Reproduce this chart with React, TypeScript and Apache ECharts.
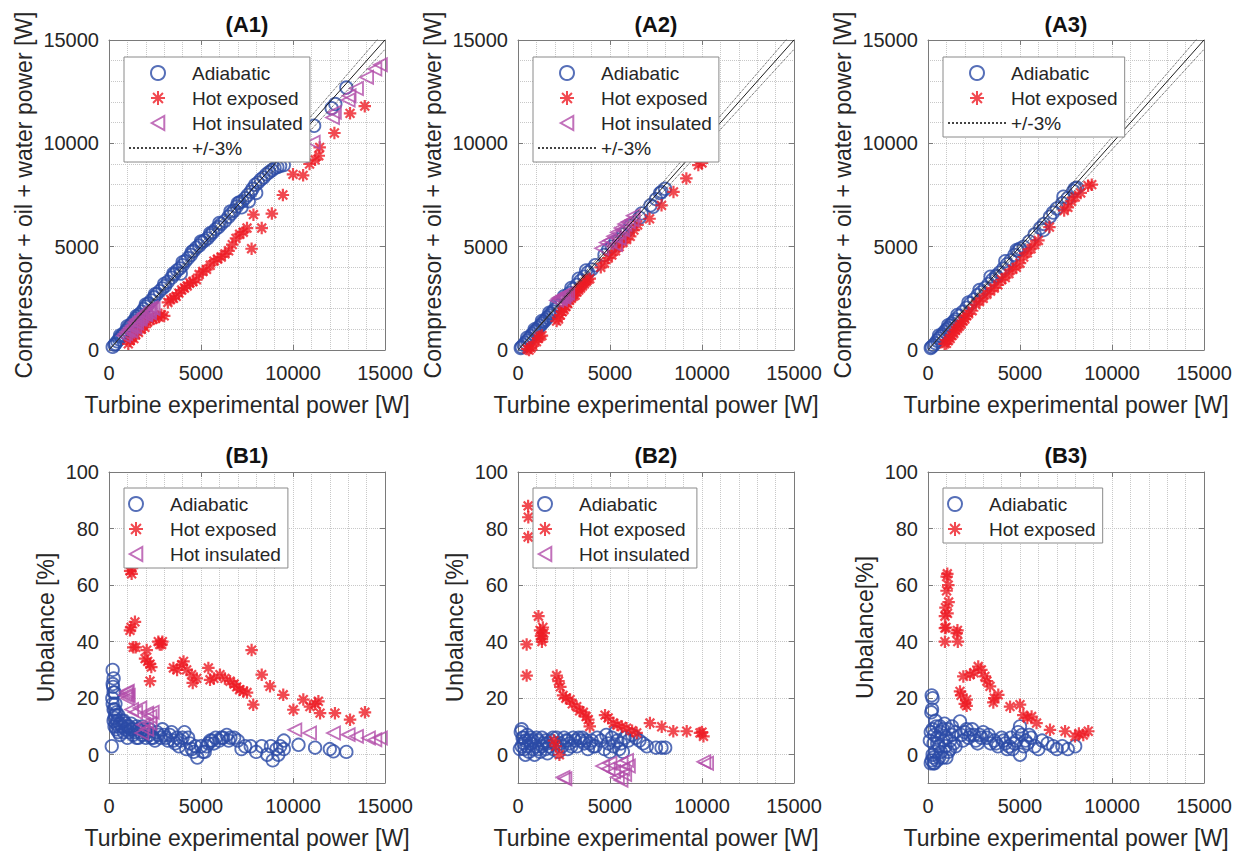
import React, { useEffect, useRef } from "react";
import * as echarts from "echarts";

// ---------- data ----------
const PANEL_TITLES = ["(A1)", "(A2)", "(A3)", "(B1)", "(B2)", "(B3)"];
const NAME_ADIA = "Adiabatic";
const NAME_EXPO = "Hot exposed";
const NAME_INSU = "Hot insulated";
const NAME_BAND = "+/-3%";
const X_TITLE = "Turbine experimental power [W]";
const Y_TITLE_TOP = "Compressor + oil + water power [W]";
const Y_TITLES_BOTTOM = ["Unbalance [%]", "Unbalance [%]", "Unbalance[%]"];
const POWER_MIN = 0;
const POWER_MAX = 15000;
const POWER_STEP = 5000;
const UNB_MIN = -10;
const UNB_MAX = 100;
const UNB_TICKS = [0, 20, 40, 60, 80, 100];

const REF_LINE = [[0, 0], [15000, 15000]];
const PLUS3_LINE = [[0, 0], [15000, 15450]];
const MINUS3_LINE = [[0, 0], [15000, 14550]];

// (A1)
const A1_ADIA = [
  [200, 150], [300, 250], [350, 300], [450, 420], [550, 520], [650, 640], [750, 730], [850, 850], [950, 950],
  [1050, 1080], [1150, 1180], [1250, 1300], [1350, 1400], [1450, 1500], [1550, 1600], [1650, 1720], [1800, 1850],
  [1900, 1980], [2000, 2100], [2150, 2250], [2300, 2400], [2450, 2550], [2600, 2700], [2750, 2850], [2900, 2980],
  [3050, 3100], [3200, 3300], [3400, 3500], [3550, 3650], [3700, 3850], [3850, 3950], [3900, 3700], [4000, 4100],
  [4150, 4300], [4300, 4450], [4450, 4600], [4600, 4800], [4750, 4950], [4900, 5050], [5050, 5200], [5200, 5300],
  [5350, 5400], [5500, 5550], [5650, 5700], [5800, 5850], [5950, 5950], [6100, 6100], [6300, 6250], [6500, 6450],
  [6650, 6600], [6800, 6750], [6950, 6950], [7100, 7150], [7200, 6900], [7250, 7200], [7400, 7350], [7550, 7500],
  [7600, 7200], [7700, 7650], [7800, 7800], [7950, 8000], [8000, 7600], [8100, 8100], [8250, 8250], [8400, 8350],
  [8550, 8500], [8700, 8600], [8850, 8700], [9000, 8800], [9150, 8850], [9300, 8900], [9500, 8950],
  [600, 700], [1000, 1150], [1500, 1650], [2000, 2200], [2500, 2700], [3000, 3200], [3500, 3700], [4000, 4250],
  [4500, 4750], [5000, 5250], [5500, 5650], [6000, 6150], [6600, 6700], [7000, 7100],
  [11150, 10850], [12100, 11700], [12300, 11900], [12900, 12700],
];
const A1_EXPO = [
  [1050, 300], [1150, 450], [1250, 600], [1350, 550], [1450, 750], [1600, 850], [1750, 1000], [1850, 1200],
  [1950, 1100], [2100, 1350], [2250, 1450], [2400, 1500], [2550, 1550], [2700, 1600], [2850, 1700], [3000, 1650],
  [3200, 2300], [3350, 2450], [3500, 2500], [3650, 2600], [3800, 2750], [3950, 2900], [4100, 3000], [4250, 3100],
  [4400, 3250], [4550, 3300], [4750, 3400], [4900, 3650], [5100, 3800], [5300, 3900], [5500, 4100], [5700, 4300],
  [5900, 4400], [6100, 4500], [6300, 4650], [6500, 4800], [6700, 5100], [6900, 5400], [7100, 5600], [7300, 5700],
  [7500, 5900], [7750, 4900], [7850, 6550], [8300, 5900], [8850, 6600], [9450, 7500], [10000, 8500], [10550, 8450],
  [10900, 9000], [11200, 9200], [11400, 9400], [11450, 9800], [12250, 10500], [13100, 11450], [13900, 11800],
];
const A1_INSU = [
  [800, 700], [900, 800], [1000, 900], [1100, 1000], [1200, 1100], [1300, 1200], [1400, 1350], [1500, 1450],
  [1600, 1500], [1700, 1600], [1800, 1650], [1900, 1750], [2000, 1800], [2100, 1900], [2200, 1950], [2300, 2050],
  [2400, 2000], [1500, 1300], [1700, 1500], [2000, 1700], [2200, 1800], [1200, 900], [1400, 1100],
  [10400, 9400], [11100, 10050], [12150, 11250], [12250, 11500], [13000, 12100], [13050, 12300], [13450, 12650],
  [14000, 13200], [14450, 13600], [14750, 13800],
];

// (A2)
const A2_ADIA = [
  [150, 100], [200, 150], [300, 250], [400, 350], [500, 450], [600, 550], [700, 680], [800, 780], [900, 880],
  [1000, 970], [1100, 1070], [1200, 1170], [1300, 1270], [1400, 1370], [1500, 1460], [1600, 1570], [1700, 1660],
  [1800, 1760], [1900, 1860], [2000, 1960], [2200, 2150], [2400, 2350], [2600, 2550], [2800, 2750], [3000, 2950],
  [3200, 3150], [3400, 3350], [3600, 3550], [3800, 3750], [4000, 3900], [4200, 4100], [500, 600], [900, 1000],
  [1300, 1400], [1700, 1800], [2100, 2200], [2500, 2600], [2900, 3000], [3300, 3450], [3700, 3850],
  [4700, 4600], [4900, 4850], [5100, 5000], [5300, 5250], [5500, 5350], [5700, 5600], [5900, 5750], [6100, 6000],
  [6600, 6400], [6720, 6610], [7200, 7000], [7340, 6930], [7500, 7300], [7720, 7590], [7800, 7650], [7990, 7800],
];
const A2_EXPO = [
  [500, 50], [600, 0], [700, 100], [800, 200], [1000, 400], [1100, 550], [1200, 650], [1300, 700],
  [2100, 1400], [2200, 1500], [2300, 1700], [2400, 1850], [2500, 1950], [2600, 2100], [2700, 2250], [2800, 2400],
  [2900, 2500], [3000, 2600], [3100, 2650], [3200, 2800], [3300, 2900], [3400, 3000], [3500, 3100], [3600, 3200],
  [3700, 3300], [3800, 3400], [3900, 3450], [4500, 4000], [4700, 4200], [4900, 4450], [5100, 4600], [5300, 4800],
  [5500, 5000], [5700, 5200], [5900, 5350], [6100, 5500], [6300, 5800], [6500, 6050], [7150, 6350], [7800, 7000],
  [8450, 7650], [9150, 8300], [9800, 8950], [10000, 9050],
];
const A2_INSU = [
  [2100, 2400], [2200, 2500], [2300, 2550], [2400, 2600], [2500, 2650], [2600, 2700], [2700, 2750], [2300, 2450],
  [2500, 2550], [4550, 4920], [4800, 5200], [5000, 5300], [5200, 5500], [5400, 5700], [5600, 5900], [5800, 6100],
  [6000, 6200], [6200, 6300], [6270, 6500], [5700, 5800], [5500, 5400], [5300, 5100], [10200, 10500],
];

// (A3)
const A3_ADIA = [
  [150, 100], [200, 150], [300, 230], [400, 330], [500, 450], [600, 560], [700, 660], [800, 760], [900, 880],
  [1000, 980], [1100, 1060], [1200, 1180], [1300, 1280], [1400, 1380], [1500, 1480], [1700, 1650], [1900, 1850],
  [2100, 2050], [2300, 2250], [2500, 2450], [2700, 2650], [2900, 2800], [3100, 3000], [3300, 3200], [3500, 3400],
  [3700, 3600], [3730, 3550], [3900, 3750], [4100, 3950], [4300, 4150], [4500, 4350], [4700, 4600], [4820, 4840],
  [4900, 4800], [5000, 4900], [5200, 5000], [5500, 5250], [5800, 5600], [6100, 5900], [6270, 5800], [6300, 6100],
  [6630, 6450], [6800, 6650], [7000, 6850], [7300, 7100], [7360, 7420], [7600, 7350], [7900, 7700], [7990, 7820],
  [8100, 7850], [600, 700], [1100, 1200], [1600, 1700], [2200, 2300], [2800, 2900], [3400, 3550], [4200, 4300],
];
const A3_EXPO = [
  [900, 300], [1000, 320], [1100, 450], [1200, 550], [1300, 700], [1400, 800], [1500, 950], [1600, 1050],
  [1700, 1150], [1800, 1250], [1900, 1400], [2000, 1500], [2100, 1650], [2200, 1750], [2400, 1900], [2600, 2200],
  [2800, 2350], [3000, 2500], [3200, 2700], [3400, 2850], [3600, 3000], [3800, 3150], [4000, 3400], [4200, 3500],
  [4400, 3700], [4600, 3900], [4800, 4000], [5000, 4200], [5200, 4500], [5400, 4700], [5600, 4900], [5800, 5100],
  [6000, 5300], [6600, 5950], [7400, 6750], [7600, 6900], [7800, 7200], [8000, 7400], [8300, 7600], [8700, 7950],
  [8900, 8000],
];

// (B1)
const B1_ADIA = [
  [150, 3], [200, 30], [250, 27], [220, 24], [300, 22], [180, 20], [350, 18], [250, 16], [400, 15], [300, 13],
  [450, 12], [500, 14], [600, 11], [700, 10], [800, 12], [900, 9], [1000, 10], [1100, 8], [1200, 9], [1300, 7],
  [1400, 8], [1500, 10], [1600, 6], [1700, 8], [1800, 7], [1900, 9], [2000, 6], [2100, 8], [2200, 7], [2400, 6],
  [2600, 8], [2800, 6], [3000, 7], [3200, 5], [3400, 8], [3600, 4], [3800, 3], [4000, 6], [4200, 2], [4400, 4],
  [4600, 1], [4800, -1], [5000, 3], [5200, 1], [5400, 4], [5600, 5], [5800, 6], [6000, 5], [6200, 6], [6400, 7],
  [6600, 6], [6800, 6], [7000, 5], [7200, 2], [7400, 3], [7700, 3], [8000, 1], [8300, 3], [8600, 0], [8900, -2],
  [9100, 2], [9300, 3], [9500, 5], [9500, 2], [300, 10], [400, 9], [500, 8], [600, 7], [800, 8], [1000, 6],
  [1200, 11], [1500, 6], [1800, 10], [2200, 9], [2500, 5], [2900, 9], [3300, 7], [3700, 6], [4100, 8], [4300, 6],
  [200, 25], [250, 22], [200, 18], [250, 12], [350, 14], [300, 16], [400, 11], [500, 10], [700, 12], [900, 11],
  [1100, 10], [1300, 9], [1600, 9], [2000, 8], [2300, 6], [2700, 7], [3100, 6], [3500, 5], [3900, 5], [4500, 2],
  [4700, 3], [5100, 1], [5300, 3], [5500, 5], [5700, 4], [6100, 6], [6500, 5], [8800, 3], [9200, 0],
  [10300, 3.5], [11200, 2.5], [12000, 2], [12200, 1.2], [12900, 1],
];
const B1_EXPO = [
  [1150, 65], [1230, 64], [1250, 66], [1140, 44], [1200, 45], [1410, 47], [1320, 38], [1450, 38], [1960, 34],
  [2050, 37], [2100, 33], [2230, 32], [2300, 31], [2230, 26], [2680, 40], [2760, 39], [2860, 39], [2900, 40],
  [3500, 30.7], [3700, 30], [3950, 31.8], [4050, 33], [4220, 30], [4490, 28.3], [4550, 25.4], [4770, 27],
  [5400, 30.7], [5490, 26.5], [5700, 27], [6030, 28.3], [6300, 27], [6580, 26], [6800, 25], [6940, 24], [7100, 23],
  [7300, 22.4], [7500, 22], [7750, 37], [7840, 17.7], [8300, 28.3], [8750, 24.2], [9470, 21.2], [10020, 15.9],
  [10560, 19.5], [10920, 17], [11200, 18], [11380, 18.9], [11470, 14.7], [12280, 14.7], [13100, 12.4], [13910, 15],
];
const B1_INSU = [
  [900, 21], [950, 22], [1000, 22.5], [1050, 21], [1000, 20], [1230, 16], [1450, 15], [1680, 16.5], [1860, 10.6],
  [1780, 7.7], [2050, 14.7], [2050, 9], [2230, 13.5], [2230, 11], [2350, 15], [10100, 8.8], [10900, 7.7],
  [12200, 7.7], [13000, 7.1], [13450, 6.5], [14100, 5.9], [14450, 5.3], [14750, 5.9],
];

// (B2)
const B2_ADIA = [
  [150, 8], [200, 9], [250, 6], [300, 4], [350, 2], [400, 5], [500, 3], [600, 1], [700, 4], [800, 2], [900, 0],
  [1000, 3], [1100, 5], [1200, 1], [1300, 3], [1400, 4], [1500, 2], [1600, 0.5], [1700, 3], [1800, 5], [1900, 2],
  [2000, 4], [2200, 1], [2400, 3], [2600, 5], [2800, 4], [3000, 6], [3200, 3], [3400, 5], [3600, 4], [3800, 2],
  [4000, 5], [4200, 3], [4500, 5], [4700, 2], [4800, 7], [4900, 4], [5000, 1], [5100, 6], [5200, 3], [5300, 8],
  [5400, 5], [5500, 2], [5600, 4], [5700, 1], [5800, 6], [6000, 5], [6200, 7], [6400, 6], [6600, 5], [6800, 4],
  [7000, 3], [7500, 2.5], [7800, 2.5], [8000, 2.5], [300, 6], [600, 5], [1000, 6], [1500, 5], [2100, 6], [2700, 2],
  [3300, 6], [3900, 4], [100, 2], [200, 3], [400, 0], [500, 7], [700, 6], [800, 5], [1100, 2], [1300, 6],
  [1600, 4], [1900, 6], [2300, 4], [2500, 6], [2700, 5], [2900, 3], [3100, 5], [3500, 6], [3700, 5], [4100, 3],
  [4300, 6],
];
const B2_EXPO = [
  [550, 88], [560, 84], [550, 77], [470, 39], [470, 28], [1110, 49], [1200, 44], [1250, 42], [1300, 40],
  [1350, 45], [1400, 43], [1300, 41], [1950, 5], [2050, 3], [2250, 0], [2100, 28], [2200, 26], [2300, 24],
  [2450, 21], [2600, 20], [2830, 19.5], [2950, 18], [3190, 17], [3350, 15.5], [3550, 15], [3700, 13.5],
  [3820, 12.4], [3900, 10], [4730, 14], [4900, 13], [5180, 11.2], [5400, 10.5], [5650, 10], [5900, 9.4],
  [6200, 8.5], [6450, 7.7], [7170, 11.2], [7810, 9.9], [8440, 8.3], [9170, 8.3], [9890, 7.7], [10000, 8],
  [10080, 6.5],
];
const B2_INSU = [
  [2450, -8], [2550, -8.5], [4600, -4], [4900, -5], [5000, -3], [5200, -6], [5400, -8], [5600, -3], [5700, -5],
  [5800, -7], [5900, -2], [6000, -4], [5600, -9], [10100, -2.5], [10250, -3],
];

// (B3)
const B3_ADIA = [
  [200, 21], [250, 20], [220, 16], [180, 15], [150, -3], [200, -2], [250, 0], [300, -1], [350, -3], [400, 1],
  [300, 4], [350, 7], [450, 10], [500, -2], [600, 3], [700, 8], [800, -1], [850, 5], [900, 11], [1000, 6],
  [1100, 9], [1200, 2], [1300, 7], [1400, 4], [1500, 8], [1740, 11.8], [1800, 7], [2000, 8], [2200, 6], [2400, 9],
  [2600, 5], [2800, 7], [3000, 8], [3200, 6], [3400, 4], [3600, 5], [3800, 3], [4000, 6], [4200, 4], [4400, 3],
  [4600, 2], [4800, 5], [5000, 10], [5000, 0], [5100, 7], [5200, 3], [5400, 4], [5600, 6], [5800, 3], [6000, 2],
  [6200, 5], [6500, 4], [6800, 3], [7000, 2], [7300, 3], [7600, 2], [8000, 3], [250, 9], [500, 4], [700, 1],
  [1000, -1], [1200, 5], [2500, 7], [2700, 4], [4500, 6], [100, 5], [150, 8], [300, -3], [400, 12], [500, 6],
  [600, -1], [650, 10], [800, 9], [950, 3], [1100, 1], [1300, 10], [1500, 3], [1900, 5], [2100, 9], [2300, 7],
  [2900, 6], [3300, 7], [3700, 4], [4100, 5], [4300, 2], [4700, 4], [4900, 8], [5300, 5], [5500, 7],
];
const B3_EXPO = [
  [920, 40], [920, 44.8], [920, 49], [950, 52], [1010, 58], [1015, 63], [1050, 64], [1100, 60], [1120, 54],
  [1060, 50], [980, 45], [1560, 43], [1620, 40], [1600, 44], [1740, 22.4], [1800, 21], [1920, 27.7], [2000, 18],
  [2100, 19.5], [2100, 17.3], [2280, 28.3], [2500, 29], [2730, 31.2], [2900, 30], [3090, 27.7], [3200, 26],
  [3370, 24.2], [3550, 18.5], [3600, 20], [3820, 21.2], [4460, 17], [5000, 17.7], [5180, 14], [5400, 13],
  [5630, 13.5], [5900, 11.2], [6630, 8.8], [7450, 8.3], [7990, 6.5], [8200, 7.5], [8440, 7], [8710, 8.3],
];

// ---------- style ----------
const FONT = "'Liberation Sans', Arial, Helvetica, sans-serif";
const TEXT_COLOR = "#262626";
const AXIS_COLOR = "#7a7a7a";
const GRID_COLOR = "#c8c8c8";
const BLUE = "#2c4ba6";
const RED = "#ee1c24";
const MAGENTA = "#b24ca9";
const ASTERISK = "path://M0,-10L0,10M-10,0L10,0M-7.07,-7.07L7.07,7.07M-7.07,7.07L7.07,-7.07";
const TRI_LEFT = "path://M0,5L9,0L9,10Z";

const COL_LEFT = [109, 518, 928];
const ROW_TOP = [40, 472];
const PLOT_W = 276;
const PLOT_H = [310, 311];

type Pt = number[];
interface Panel {
  adia: Pt[];
  expo: Pt[];
  insu?: Pt[];
}
const PANELS: Panel[] = [
  { adia: A1_ADIA, expo: A1_EXPO, insu: A1_INSU },
  { adia: A2_ADIA, expo: A2_EXPO, insu: A2_INSU },
  { adia: A3_ADIA, expo: A3_EXPO },
  { adia: B1_ADIA, expo: B1_EXPO, insu: B1_INSU },
  { adia: B2_ADIA, expo: B2_EXPO, insu: B2_INSU },
  { adia: B3_ADIA, expo: B3_EXPO },
];

const plain = (v: number) => String(v);

function buildOption() {
  const grid: any[] = [];
  const xAxis: any[] = [];
  const yAxis: any[] = [];
  const series: any[] = [];
  const legend: any[] = [];
  const graphic: any[] = [];

  const gridLine = { show: true, lineStyle: { color: GRID_COLOR, type: "dotted", width: 1 } };
  const axisLine = { show: true, onZero: false, lineStyle: { color: AXIS_COLOR, width: 1 } };
  const tick = { show: true, inside: true, length: 5, lineStyle: { color: AXIS_COLOR, width: 1 } };
  const labelStyle = { fontSize: 20, color: TEXT_COLOR, fontFamily: FONT, formatter: plain };
  const nameStyle = { fontSize: 23, color: TEXT_COLOR, fontFamily: FONT };

  PANELS.forEach((p, i) => {
    const col = i % 3;
    const row = Math.floor(i / 3);
    const left = COL_LEFT[col];
    const top = ROW_TOP[row];
    const h = PLOT_H[row];
    grid.push({ left, top, width: PLOT_W, height: h, containLabel: false, show: false });

    xAxis.push({
      gridIndex: i, type: "value", position: "bottom",
      min: POWER_MIN, max: POWER_MAX, interval: POWER_STEP,
      name: X_TITLE, nameLocation: "middle", nameGap: 43, nameTextStyle: nameStyle,
      axisLine, axisTick: tick,
      axisLabel: { ...labelStyle, margin: 13, showMinLabel: true, showMaxLabel: true },
      splitLine: gridLine,
      minorTick: { show: false, splitNumber: 5 },
      minorSplitLine: gridLine,
    });
    xAxis.push({
      gridIndex: i, type: "value", position: "top",
      min: POWER_MIN, max: POWER_MAX, interval: POWER_STEP,
      axisLine, axisTick: tick, axisLabel: { show: false }, splitLine: { show: false },
    });

    if (row === 0) {
      yAxis.push({
        gridIndex: i, type: "value", position: "left",
        min: POWER_MIN, max: POWER_MAX, interval: POWER_STEP,
        name: Y_TITLE_TOP, nameLocation: "middle", nameGap: 74, nameTextStyle: nameStyle,
        axisLine, axisTick: tick,
        axisLabel: { ...labelStyle, margin: 10, showMinLabel: true, showMaxLabel: true },
        splitLine: gridLine,
        minorTick: { show: false, splitNumber: 5 },
        minorSplitLine: gridLine,
      });
      yAxis.push({
        gridIndex: i, type: "value", position: "right",
        min: POWER_MIN, max: POWER_MAX, interval: POWER_STEP,
        axisLine, axisTick: tick, axisLabel: { show: false }, splitLine: { show: false },
      });
    } else {
      yAxis.push({
        gridIndex: i, type: "value", position: "left",
        min: UNB_MIN, max: UNB_MAX, interval: 5,
        name: Y_TITLES_BOTTOM[col], nameLocation: "middle", nameGap: 52, nameTextStyle: nameStyle,
        axisLine,
        axisTick: { ...tick, customValues: UNB_TICKS },
        axisLabel: { ...labelStyle, margin: 10, customValues: UNB_TICKS },
        splitLine: gridLine,
      });
      yAxis.push({
        gridIndex: i, type: "value", position: "right",
        min: UNB_MIN, max: UNB_MAX, interval: 5,
        axisLine,
        axisTick: { ...tick, customValues: UNB_TICKS },
        axisLabel: { show: false }, splitLine: { show: false },
      });
    }

    const axIdx = { xAxisIndex: 2 * i, yAxisIndex: 2 * i };
    series.push({
      type: "scatter", name: NAME_ADIA, ...axIdx, data: p.adia, symbol: "circle", symbolSize: 12.5,
      itemStyle: { color: "transparent", borderColor: BLUE, borderWidth: 1.8 }, silent: true, z: 2,
    });
    series.push({
      type: "scatter", name: NAME_EXPO, ...axIdx, data: p.expo, symbol: ASTERISK, symbolSize: 12.5,
      itemStyle: { color: "transparent", borderColor: RED, borderWidth: 2.2 }, silent: true, z: 2,
    });
    if (p.insu) {
      series.push({
        type: "scatter", name: NAME_INSU, ...axIdx, data: p.insu, symbol: TRI_LEFT, symbolSize: 13,
        itemStyle: { color: "transparent", borderColor: MAGENTA, borderWidth: 1.8 }, silent: true, z: 2,
      });
    }
    if (row === 0) {
      series.push({
        type: "line", name: "y = x", ...axIdx, data: REF_LINE, symbol: "none", silent: true, z: 3,
        itemStyle: { color: "transparent" },
        lineStyle: { color: "#1a1a1a", width: 1, type: "solid" },
      });
      series.push({
        type: "line", name: NAME_BAND, ...axIdx, data: PLUS3_LINE, symbol: "none", silent: true, z: 3,
        itemStyle: { color: "transparent", borderColor: "transparent" },
        lineStyle: { color: "#444", width: 1, type: "dotted" },
      });
      series.push({
        type: "line", name: NAME_BAND, ...axIdx, data: MINUS3_LINE, symbol: "none", silent: true, z: 3,
        itemStyle: { color: "transparent", borderColor: "transparent" },
        lineStyle: { color: "#444", width: 1, type: "dotted" },
      });
    }

    const names = [NAME_ADIA, NAME_EXPO];
    if (p.insu) names.push(NAME_INSU);
    if (row === 0) names.push(NAME_BAND);
    legend.push({
      left: left + 15, top: row === 0 ? 57 : 488,
      orient: "vertical", data: names, selectedMode: false,
      itemWidth: 58, itemHeight: 14, itemGap: 5,
      padding: [6, 7, 4, 4],
      backgroundColor: "#ffffff", borderColor: "#8a8a8a", borderWidth: 1,
      textStyle: { fontSize: 19, color: TEXT_COLOR, fontFamily: FONT, lineHeight: 20 },
      z: 10,
    });

    graphic.push({
      type: "text", x: left + PLOT_W / 2, y: row === 0 ? 24 : 455, z: 10,
      style: {
        text: PANEL_TITLES[i], fill: "#111", font: `bold 22px ${FONT}`,
        textAlign: "center", textVerticalAlign: "middle",
      },
    });
  });

  return {
    animation: false,
    backgroundColor: "#ffffff",
    textStyle: { fontFamily: FONT },
    grid, xAxis, yAxis, series, legend, graphic,
  };
}

export default function App() {
  const ref = useRef<HTMLDivElement>(null);
  useEffect(() => {
    document.body.style.margin = "0";
    if (!ref.current) return;
    const chart = echarts.init(ref.current, undefined, { renderer: "svg" });
    chart.setOption(buildOption() as any);
    return () => chart.dispose();
  }, []);
  return <div ref={ref} style={{ width: 1250, height: 854 }} />;
}
